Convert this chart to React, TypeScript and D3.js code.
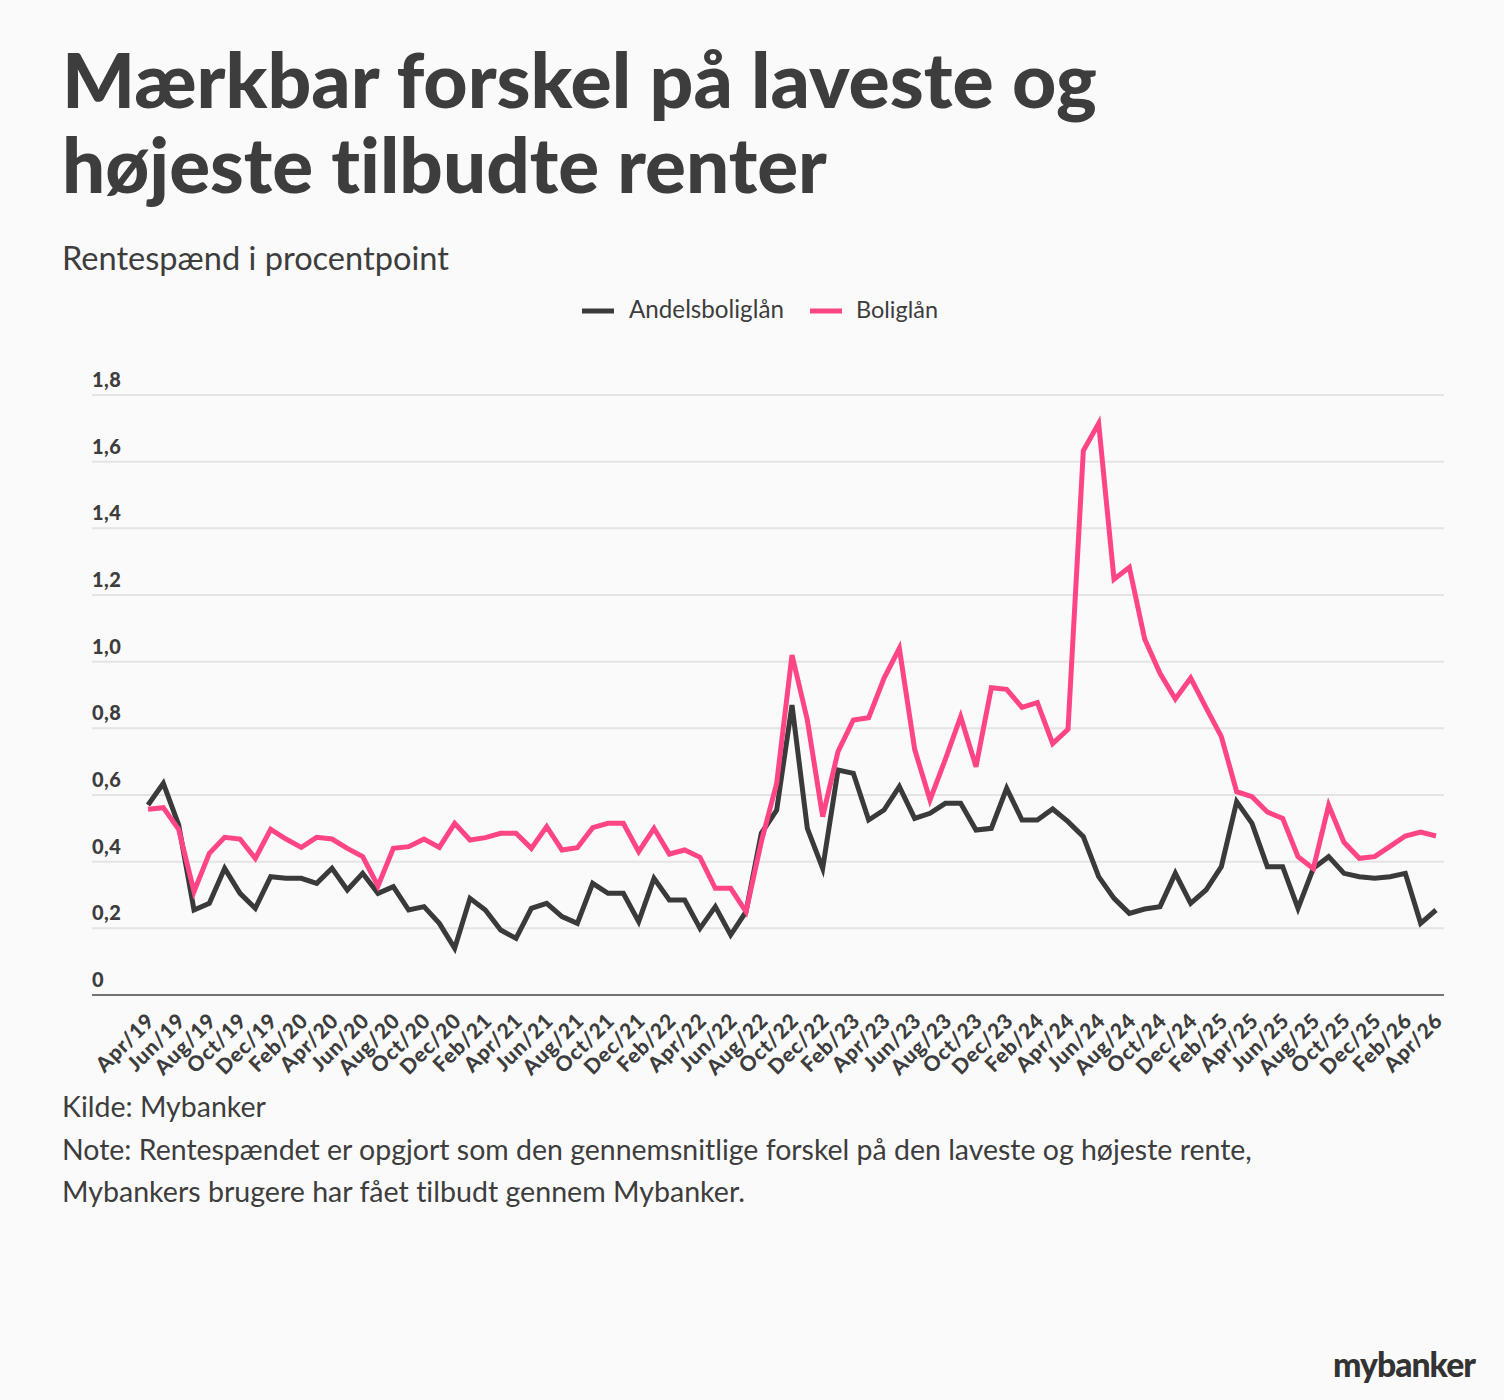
import { useEffect, useRef } from 'react'
import * as d3 from 'd3'

// Months Apr/19 .. Apr/26
const months = [
  'Apr/19', 'May/19', 'Jun/19', 'Jul/19', 'Aug/19', 'Sep/19', 'Oct/19', 'Nov/19', 'Dec/19',
  'Jan/20', 'Feb/20', 'Mar/20', 'Apr/20', 'May/20', 'Jun/20', 'Jul/20', 'Aug/20', 'Sep/20', 'Oct/20', 'Nov/20', 'Dec/20',
  'Jan/21', 'Feb/21', 'Mar/21', 'Apr/21', 'May/21', 'Jun/21', 'Jul/21', 'Aug/21', 'Sep/21', 'Oct/21', 'Nov/21', 'Dec/21',
  'Jan/22', 'Feb/22', 'Mar/22', 'Apr/22', 'May/22', 'Jun/22', 'Jul/22', 'Aug/22', 'Sep/22', 'Oct/22', 'Nov/22', 'Dec/22',
  'Jan/23', 'Feb/23', 'Mar/23', 'Apr/23', 'May/23', 'Jun/23', 'Jul/23', 'Aug/23', 'Sep/23', 'Oct/23', 'Nov/23', 'Dec/23',
  'Jan/24', 'Feb/24', 'Mar/24', 'Apr/24', 'May/24', 'Jun/24', 'Jul/24', 'Aug/24', 'Sep/24', 'Oct/24', 'Nov/24', 'Dec/24',
  'Jan/25', 'Feb/25', 'Mar/25', 'Apr/25', 'May/25', 'Jun/25', 'Jul/25', 'Aug/25', 'Sep/25', 'Oct/25', 'Nov/25', 'Dec/25',
  'Jan/26', 'Feb/26', 'Mar/26', 'Apr/26',
]

const tickLabels = [
  'Apr/19', 'Jun/19', 'Aug/19', 'Oct/19', 'Dec/19', 'Feb/20', 'Apr/20', 'Jun/20', 'Aug/20', 'Oct/20', 'Dec/20',
  'Feb/21', 'Apr/21', 'Jun/21', 'Aug/21', 'Oct/21', 'Dec/21', 'Feb/22', 'Apr/22', 'Jun/22', 'Aug/22', 'Oct/22',
  'Dec/22', 'Feb/23', 'Apr/23', 'Jun/23', 'Aug/23', 'Oct/23', 'Dec/23', 'Feb/24', 'Apr/24', 'Jun/24', 'Aug/24',
  'Oct/24', 'Dec/24', 'Feb/25', 'Apr/25', 'Jun/25', 'Aug/25', 'Oct/25', 'Dec/25', 'Feb/26', 'Apr/26',
]

const andelsboliglaan = [
  0.57, 0.635, 0.51, 0.255, 0.275, 0.38, 0.305, 0.26, 0.355,
  0.35, 0.35, 0.335, 0.38, 0.315, 0.365, 0.305, 0.325, 0.255, 0.265, 0.215, 0.14,
  0.29, 0.255, 0.195, 0.17, 0.26, 0.275, 0.235, 0.215, 0.335, 0.305, 0.305, 0.22,
  0.35, 0.285, 0.285, 0.2, 0.265, 0.18, 0.25, 0.485, 0.555, 0.87, 0.5, 0.38,
  0.675, 0.665, 0.525, 0.555, 0.625, 0.53, 0.545, 0.575, 0.575, 0.495, 0.5, 0.62,
  0.525, 0.525, 0.558, 0.52, 0.475, 0.355, 0.29, 0.245, 0.258, 0.265, 0.365, 0.275,
  0.315, 0.385, 0.58, 0.515, 0.385, 0.385, 0.26, 0.38, 0.415, 0.365, 0.355, 0.35,
  0.355, 0.365, 0.215, 0.255,
]

const boliglaan = [
  0.557, 0.562, 0.497, 0.31, 0.425, 0.473, 0.468, 0.41, 0.497,
  0.468, 0.443, 0.473, 0.468, 0.44, 0.415, 0.327, 0.44, 0.445, 0.468, 0.443, 0.515,
  0.465, 0.472, 0.485, 0.485, 0.44, 0.505, 0.435, 0.442, 0.502, 0.515, 0.515, 0.43,
  0.5, 0.423, 0.435, 0.413, 0.32, 0.32, 0.25, 0.46, 0.635, 1.02, 0.825, 0.535,
  0.73, 0.825, 0.832, 0.95, 1.04, 0.737, 0.585, 0.707, 0.835, 0.685, 0.922, 0.917,
  0.863, 0.877, 0.754, 0.797, 1.633, 1.715, 1.247, 1.283, 1.068, 0.965, 0.888, 0.951,
  0.862, 0.775, 0.61, 0.595, 0.549, 0.53, 0.415, 0.379, 0.569, 0.458, 0.41, 0.415,
  0.446, 0.477, 0.489, 0.477,
]

const yTicks = [0, 0.2, 0.4, 0.6, 0.8, 1.0, 1.2, 1.4, 1.6, 1.8]

const series = [
  { name: 'Andelsboliglån', values: andelsboliglaan, color: '#3a3a3a' },
  { name: 'Boliglån', values: boliglaan, color: '#ff4586' },
]

const FONT = 'Lato, sans-serif'
const TEXT = '#3d3d3d'

export default function App() {
  const svgRef = useRef<SVGSVGElement>(null)
  const width = 1504
  const height = 1400
  const plot = { left: 92, right: 1444, x0: 148, x1: 1436, top: 395, bottom: 995 }

  const x = d3.scalePoint<string>().domain(months).range([plot.x0, plot.x1])
  const y = d3.scaleLinear().domain([0, 1.8]).range([plot.bottom, plot.top])

  const line = d3
    .line<number>()
    .x((_, i) => x(months[i]) as number)
    .y((d) => y(d))

  // scale a few texts so their width matches the reference layout
  useEffect(() => {
    if (!svgRef.current) return
    d3.select(svgRef.current)
      .selectAll<SVGTextElement, unknown>('text[data-fit]')
      .each(function () {
        const target = +(this.getAttribute('data-fit') || 0)
        const len = this.getComputedTextLength()
        const fs = parseFloat(this.getAttribute('font-size') || '16')
        if (len > 0 && target > 0) this.setAttribute('font-size', String((fs * target) / len))
      })
  }, [])

  return (
    <svg
      ref={svgRef}
      width={width}
      height={height}
      style={{ position: 'absolute', left: 0, top: 0, fontFamily: FONT, fontVariantLigatures: 'none' }}
    >
      <rect width={width} height={height} fill="#fafafa" />

      {/* title */}
      <text x={62} y={108} fontSize={70} fontWeight={900} fill={TEXT} data-fit={1035}>
        Mærkbar forskel på laveste og
      </text>
      <text x={62} y={193} fontSize={70} fontWeight={900} fill={TEXT} data-fit={765}>
        højeste tilbudte renter
      </text>
      <text x={62} y={270} fontSize={28} fill={TEXT} data-fit={387}>
        Rentespænd i procentpoint
      </text>

      {/* legend */}
      <g>
        <line x1={582} x2={614} y1={311} y2={311} stroke={series[0].color} strokeWidth={5} />
        <text x={629} y={318} fontSize={21} fill={TEXT} data-fit={155}>
          {series[0].name}
        </text>
        <line x1={810} x2={842} y1={311} y2={311} stroke={series[1].color} strokeWidth={5} />
        <text x={856} y={318} fontSize={21} fill={TEXT} data-fit={82}>
          {series[1].name}
        </text>
      </g>

      {/* grid + y labels */}
      {yTicks.map((t) => (
        <g key={t}>
          {t > 0 && (
            <line x1={plot.left} x2={plot.right} y1={y(t)} y2={y(t)} stroke="#e4e4e4" strokeWidth={2} />
          )}
          <text x={plot.left} y={y(t) - 8} fontSize={20} fontWeight={900} fill={TEXT} letterSpacing={0.5}>
            {t === 0 ? '0' : d3.format('.1f')(t).replace('.', ',')}
          </text>
        </g>
      ))}
      <line x1={plot.left} x2={plot.right} y1={plot.bottom} y2={plot.bottom} stroke="#737373" strokeWidth={2} />

      {/* x labels */}
      {tickLabels.map((m) => (
        <text
          key={m}
          transform={`translate(${(x(m) as number) + 8},${plot.bottom + 27}) rotate(-45)`}
          textAnchor="end"
          fontSize={21}
          fontWeight={900}
          letterSpacing={0.8}
          fill={TEXT}
        >
          {m}
        </text>
      ))}

      {/* lines */}
      {series.map((s) => (
        <path
          key={s.name}
          d={line(s.values) || ''}
          fill="none"
          stroke={s.color}
          strokeWidth={5}
          strokeLinejoin="miter"
        />
      ))}

      {/* footer */}
      <text x={62} y={1117} fontSize={24} fill={TEXT} data-fit={204}>
        Kilde: Mybanker
      </text>
      <text x={62} y={1160} fontSize={24} fill={TEXT} data-fit={1190}>
        Note: Rentespændet er opgjort som den gennemsnitlige forskel på den laveste og højeste rente,
      </text>
      <text x={62} y={1202} fontSize={24} fill={TEXT} data-fit={683}>
        Mybankers brugere har fået tilbudt gennem Mybanker.
      </text>
      <text x={1333} y={1377} fontSize={30} fontWeight={900} fill="#333" letterSpacing={-1} data-fit={141}>
        mybanker
      </text>
    </svg>
  )
}
